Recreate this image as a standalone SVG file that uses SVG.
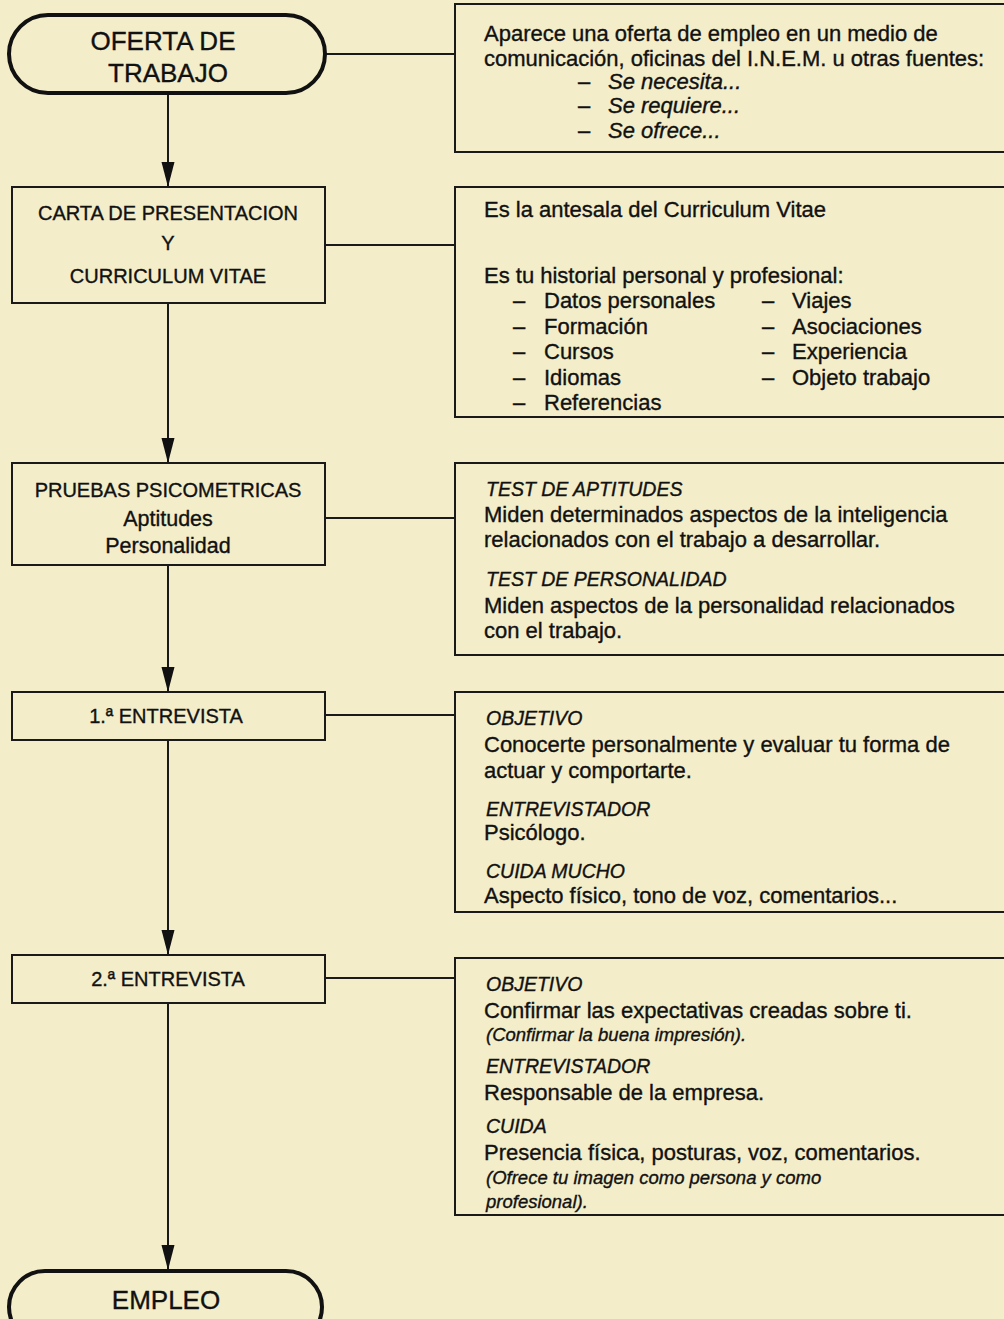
<svg xmlns="http://www.w3.org/2000/svg" width="1004" height="1319" viewBox="0 0 1004 1319">
<defs>
<style>
.bg{fill:#f3edc9}
.term{fill:none;stroke:#111;stroke-width:4}
.box{fill:none;stroke:#1a1a1a;stroke-width:2}
.conn{fill:none;stroke:#1a1a1a;stroke-width:2}
text{font-family:"Liberation Sans",Arial,sans-serif;fill:#111;stroke:#111;stroke-width:0.35}
.tt{font-size:26px;text-anchor:middle}
.lt{font-size:20px;text-anchor:middle}
.ls{font-size:21.5px;text-anchor:middle}
.rt{font-size:22px}
.hd{font-size:19.5px;font-style:italic}
.it{font-style:italic}
.sm{font-size:18.5px;font-style:italic}
</style>
<marker id="ah" markerUnits="userSpaceOnUse" markerWidth="26" markerHeight="14" refX="25" refY="7" orient="auto" viewBox="0 0 26 14">
<path d="M0,0.5 L25,7 L0,13.5 Z" fill="#111"/>
</marker>
</defs>
<rect class="bg" x="0" y="0" width="1004" height="1319"/>

<g id="connectors">
<line class="conn" x1="168" y1="94" x2="168" y2="187" marker-end="url(#ah)"/>
<line class="conn" x1="168" y1="303" x2="168" y2="463" marker-end="url(#ah)"/>
<line class="conn" x1="168" y1="565" x2="168" y2="692" marker-end="url(#ah)"/>
<line class="conn" x1="168" y1="740" x2="168" y2="955" marker-end="url(#ah)"/>
<line class="conn" x1="168" y1="1003" x2="168" y2="1270" marker-end="url(#ah)"/>
<line class="conn" x1="326" y1="54" x2="455" y2="54"/>
<line class="conn" x1="325" y1="245" x2="455" y2="245"/>
<line class="conn" x1="325" y1="518" x2="455" y2="518"/>
<line class="conn" x1="325" y1="715" x2="455" y2="715"/>
<line class="conn" x1="325" y1="978" x2="455" y2="978"/>
</g>

<g id="oferta">
<rect class="term" x="9" y="15" width="316" height="78" rx="39"/>
<text class="tt" x="163" y="50">OFERTA DE</text>
<text class="tt" x="168" y="82">TRABAJO</text>
</g>

<g id="oferta-desc">
<rect class="box" x="455" y="4" width="560" height="148"/>
<text class="rt" x="484" y="41">Aparece una oferta de empleo en un medio de</text>
<text class="rt" x="484" y="66">comunicación, oficinas del I.N.E.M. u otras fuentes:</text>
<text class="rt" x="578" y="89">–</text><text class="rt it" x="608" y="89">Se necesita...</text>
<text class="rt" x="578" y="113">–</text><text class="rt it" x="608" y="113">Se requiere...</text>
<text class="rt" x="578" y="138">–</text><text class="rt it" x="608" y="138">Se ofrece...</text>
</g>

<g id="carta">
<rect class="box" x="12" y="187" width="313" height="116"/>
<text class="lt" x="168" y="220">CARTA DE PRESENTACION</text>
<text class="lt" x="168" y="250">Y</text>
<text class="lt" x="168" y="283">CURRICULUM VITAE</text>
</g>

<g id="carta-desc">
<rect class="box" x="455" y="187" width="560" height="230"/>
<text class="rt" x="484" y="217">Es la antesala del Curriculum Vitae</text>
<text class="rt" x="484" y="283">Es tu historial personal y profesional:</text>
<text class="rt" x="513" y="308">–</text><text class="rt" x="544" y="308">Datos personales</text>
<text class="rt" x="513" y="334">–</text><text class="rt" x="544" y="334">Formación</text>
<text class="rt" x="513" y="359">–</text><text class="rt" x="544" y="359">Cursos</text>
<text class="rt" x="513" y="385">–</text><text class="rt" x="544" y="385">Idiomas</text>
<text class="rt" x="513" y="410">–</text><text class="rt" x="544" y="410">Referencias</text>
<text class="rt" x="762" y="308">–</text><text class="rt" x="792" y="308">Viajes</text>
<text class="rt" x="762" y="334">–</text><text class="rt" x="792" y="334">Asociaciones</text>
<text class="rt" x="762" y="359">–</text><text class="rt" x="792" y="359">Experiencia</text>
<text class="rt" x="762" y="385">–</text><text class="rt" x="792" y="385">Objeto trabajo</text>
</g>

<g id="pruebas">
<rect class="box" x="12" y="463" width="313" height="102"/>
<text class="lt" x="168" y="497">PRUEBAS PSICOMETRICAS</text>
<text class="ls" x="168" y="526">Aptitudes</text>
<text class="ls" x="168" y="553">Personalidad</text>
</g>

<g id="pruebas-desc">
<rect class="box" x="455" y="463" width="560" height="192"/>
<text class="hd" x="486" y="496">TEST DE APTITUDES</text>
<text class="rt" x="484" y="522">Miden determinados aspectos de la inteligencia</text>
<text class="rt" x="484" y="547">relacionados con el trabajo a desarrollar.</text>
<text class="hd" x="486" y="586">TEST DE PERSONALIDAD</text>
<text class="rt" x="484" y="613">Miden aspectos de la personalidad relacionados</text>
<text class="rt" x="484" y="638">con el trabajo.</text>
</g>

<g id="entrevista1">
<rect class="box" x="12" y="692" width="313" height="48"/>
<text class="lt" x="166" y="723">1.ª ENTREVISTA</text>
</g>

<g id="entrevista1-desc">
<rect class="box" x="455" y="692" width="560" height="220"/>
<text class="hd" x="486" y="725">OBJETIVO</text>
<text class="rt" x="484" y="752">Conocerte personalmente y evaluar tu forma de</text>
<text class="rt" x="484" y="778">actuar y comportarte.</text>
<text class="hd" x="486" y="816">ENTREVISTADOR</text>
<text class="rt" x="484" y="840">Psicólogo.</text>
<text class="hd" x="486" y="878">CUIDA MUCHO</text>
<text class="rt" x="484" y="903">Aspecto físico, tono de voz, comentarios...</text>
</g>

<g id="entrevista2">
<rect class="box" x="12" y="955" width="313" height="48"/>
<text class="lt" x="168" y="986">2.ª ENTREVISTA</text>
</g>

<g id="entrevista2-desc">
<rect class="box" x="455" y="958" width="560" height="257"/>
<text class="hd" x="486" y="991">OBJETIVO</text>
<text class="rt" x="484" y="1018">Confirmar las expectativas creadas sobre ti.</text>
<text class="sm" x="486" y="1041">(Confirmar la buena impresión).</text>
<text class="hd" x="486" y="1073">ENTREVISTADOR</text>
<text class="rt" x="484" y="1100">Responsable de la empresa.</text>
<text class="hd" x="486" y="1133">CUIDA</text>
<text class="rt" x="484" y="1160">Presencia física, posturas, voz, comentarios.</text>
<text class="sm" x="486" y="1184">(Ofrece tu imagen como persona y como</text>
<text class="sm" x="486" y="1208">profesional).</text>
</g>

<g id="empleo">
<rect class="term" x="9" y="1271" width="313" height="72" rx="36"/>
<text class="tt" x="166" y="1309">EMPLEO</text>
</g>
</svg>
